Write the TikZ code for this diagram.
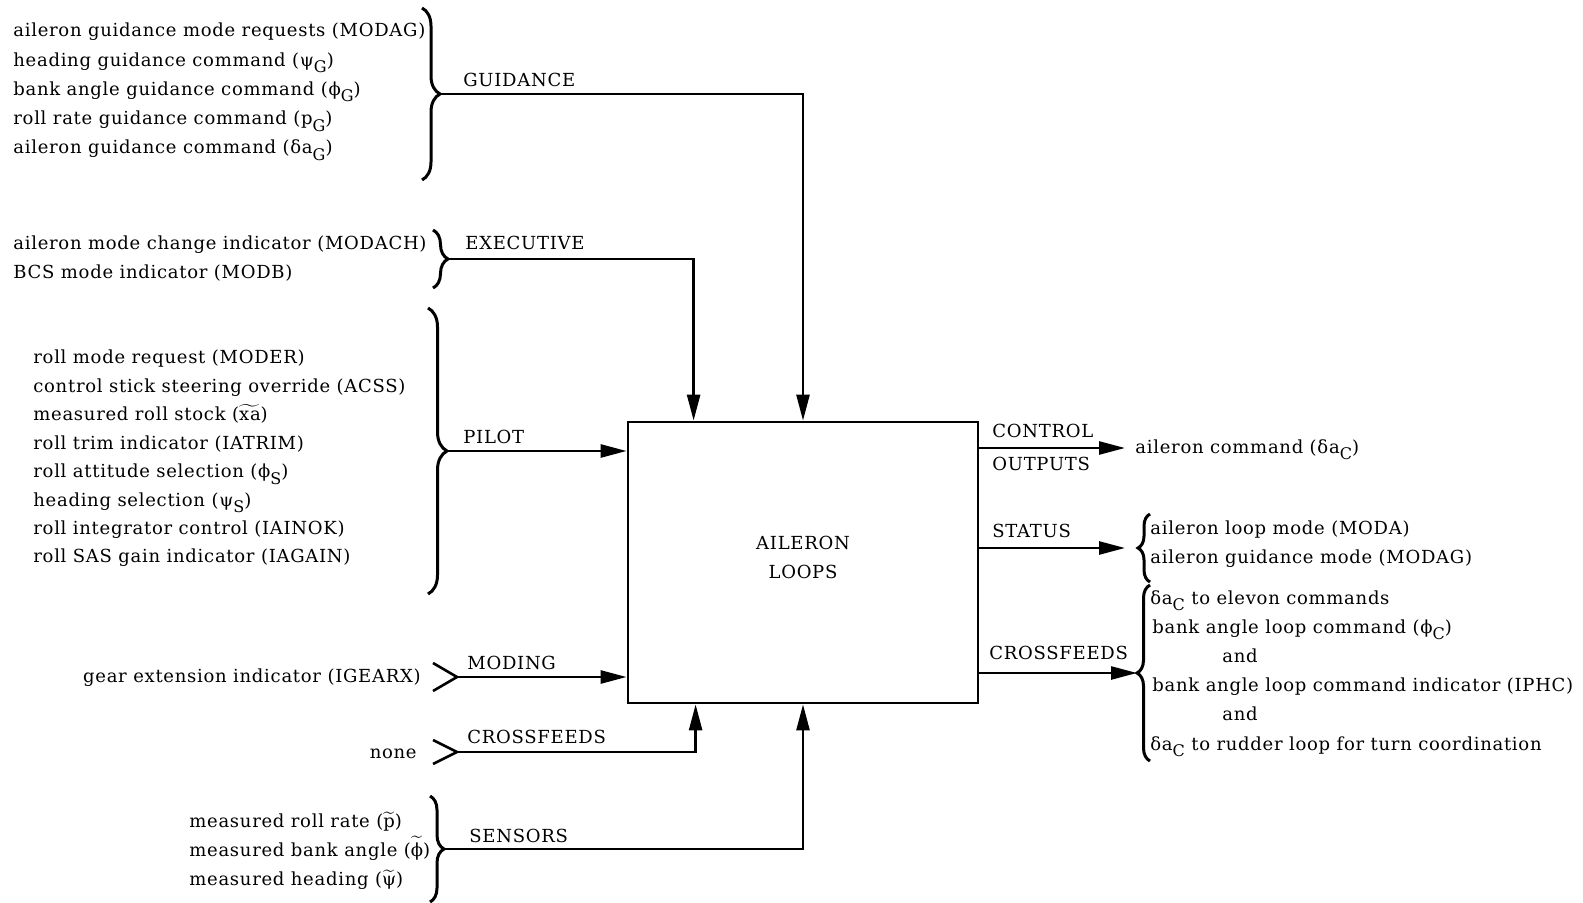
\documentclass[tikz,border=0pt]{standalone}
\usepackage{fontspec}
\setmainfont{DejaVu Serif}[LetterSpace=4]
\usetikzlibrary{arrows.meta,decorations.pathreplacing}

\newcommand\sbs[1]{\raisebox{-0.7ex}{\fontsize{8}{9}\selectfont #1}}
\newcommand\tl[1]{$\widetilde{\mbox{#1}}$}

\tikzset{
    item/.style={anchor=base west, inner sep=0pt, font=\fontsize{9}{10}\selectfont},
    itemr/.style={item, anchor=base east},
    wire/.style={line width=1.3pt},
    flow/.style={wire, -{Triangle[length=13pt,width=6.5pt]}},
    brc/.style={line width=1.5pt, decorate, decoration={brace, amplitude=#1}},
    block/.style={draw, line width=1.4pt, minimum width=175pt, minimum height=140.5pt}
}

\begin{document}
\begin{tikzpicture}[x=0.5pt, y=0.5pt]
        \useasboundingbox (0,0) rectangle (1583,-903);

        % Khoi chinh
        \node[block] (box) at (803,-562.5) {};
        \node[align=center, font=\fontsize{9}{14.5}\selectfont] (boxTxt) at (803,-557) {AILERON\\LOOPS};

        % Guidance inputs
        \foreach \t [count=\i] in {aileron guidance mode requests (MODAG),
                heading guidance command (ψ\sbs{G}), bank angle guidance command (ϕ\sbs{G}),
                roll rate guidance command (p\sbs{G}), aileron guidance command (δa\sbs{G})} {
            \node[item] (gd\i) at (13,{-37-29.2*(\i-1)}) {\t};
        }
        \draw[brc=9pt] (422,-8) -- (422,-180);
        \coordinate (gdTip) at (440,-94);
        \node[item] (gdLab) at (463,-87) {GUIDANCE};
        \draw[flow] (gdTip) -| (box.north);

        % Executive inputs
        \node[item] (ex1) at (13,-250) {aileron mode change indicator (MODACH)};
        \node[item] (ex2) at (13,-279) {BCS mode indicator (MODB)};
        \draw[brc=7.5pt] (433,-230) -- (433,-288);
        \coordinate (exTip) at (448,-259);
        \node[item] (exLab) at (465,-250) {EXECUTIVE};
        \draw[flow] (exTip) -| ([xshift=33.5pt]box.north west);

        % Pilot inputs
        \foreach \t [count=\i] in {roll mode request (MODER), control stick steering override (ACSS),
                measured roll stock (\tl{xa}), roll trim indicator (IATRIM),
                roll attitude selection (ϕ\sbs{S}), heading selection (ψ\sbs{S}),
                roll integrator control (IAINOK), roll SAS gain indicator (IAGAIN)} {
            \node[item] (pl\i) at (33,{-364-28.4*(\i-1)}) {\t};
        }
        \draw[brc=9.5pt] (428,-308) -- (428,-594);
        \coordinate (plTip) at (447,-451);
        \node[item] (plLab) at (463,-443) {PILOT};
        \draw[flow] (plTip) -- (plTip -| box.west);

        % Moding
        \node[itemr] (md1) at (421,-682) {gear extension indicator (IGEARX)};
        \coordinate (mdTip) at (457,-677);
        \draw[wire] (433,-663) -- (mdTip) -- (433,-691);
        \node[item] (mdLab) at (467,-669) {MODING};
        \draw[flow] (mdTip) -- (mdTip -| box.west);

        % Crossfeeds in
        \node[itemr] (cf1) at (417,-758) {none};
        \coordinate (cfTip) at (457,-752);
        \draw[wire] (433,-740) -- (cfTip) -- (433,-764);
        \node[item] (cfLab) at (467,-743) {CROSSFEEDS};
        \draw[flow] (cfTip) -| ([xshift=34.5pt]box.south west);

        % Sensors
        \foreach \t [count=\i] in {measured roll rate (\tl{p}), measured bank angle (\tl{ϕ}),
                measured heading (\tl{ψ})} {
            \node[item] (sn\i) at (189,{-827-29*(\i-1)}) {\t};
        }
        \draw[brc=7pt] (430,-796) -- (430,-902);
        \coordinate (snTip) at (444,-849);
        \node[item] (snLab) at (469,-842) {SENSORS};
        \draw[flow] (snTip) -| (box.south);

        % Control outputs
        \coordinate (coEnd) at (1125,-448);
        \node[item] (coLab1) at (992,-437) {CONTROL};
        \node[item] (coLab2) at (992,-470) {OUTPUTS};
        \draw[flow] (coEnd -| box.east) -- (coEnd);
        \node[item] (co1) at (1135,-453) {aileron command (δa\sbs{C})};

        % Status
        \coordinate (stEnd) at (1125,-548);
        \node[item] (stLab) at (992,-537) {STATUS};
        \draw[flow] (stEnd -| box.east) -- (stEnd);
        \draw[brc=6pt] (1150,-582) -- (1150,-514);
        \node[item] (st1) at (1150,-534) {aileron loop mode (MODA)};
        \node[item] (st2) at (1150,-563) {aileron guidance mode (MODAG)};

        % Crossfeeds out
        \coordinate (cxEnd) at (1137,-673);
        \node[item] (cxLab) at (989,-659) {CROSSFEEDS};
        \draw[flow] (cxEnd -| box.east) -- (cxEnd);
        \draw[brc=6.5pt] (1150,-761) -- (1150,-585);
        \foreach \x/\t [count=\i] in {1150/δa\sbs{C} to elevon commands,
                1152/bank angle loop command (ϕ\sbs{C}), 1222/and,
                1152/bank angle loop command indicator (IPHC), 1222/and,
                1150/δa\sbs{C} to rudder loop for turn coordination} {
            \node[item] (cx\i) at (\x,{-604-29.2*(\i-1)}) {\t};
        }
\end{tikzpicture}
\end{document}
